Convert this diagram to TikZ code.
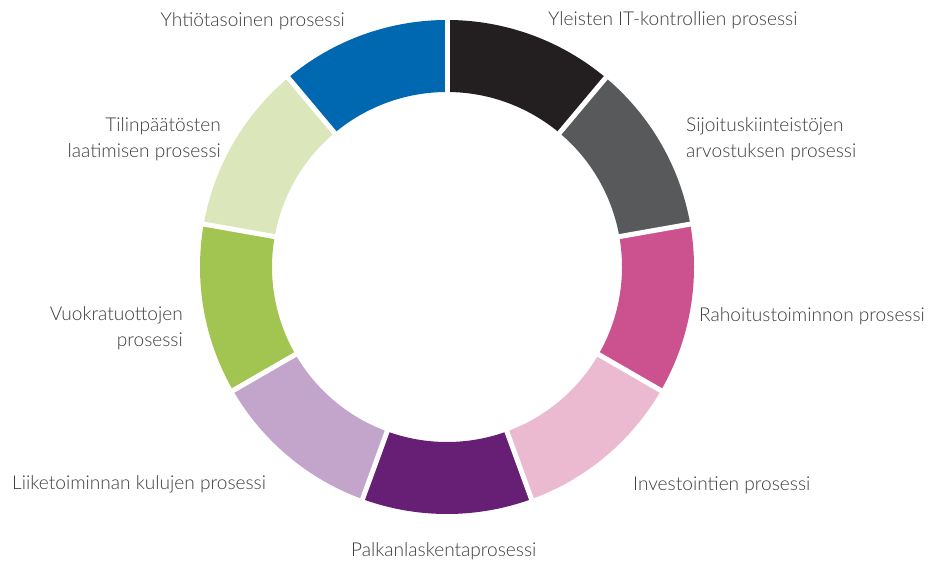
\documentclass[tikz,border=0pt]{standalone}
\usepackage{fontspec}
\setmainfont{Lato Light}
\usetikzlibrary{positioning}
\definecolor{itblack}{HTML}{231F20}
\definecolor{sijgray}{HTML}{58595B}
\definecolor{rahpink}{HTML}{CC528F}
\definecolor{invpink}{HTML}{EBB9D0}
\definecolor{palpurple}{HTML}{661F74}
\definecolor{liililac}{HTML}{C3A4CA}
\definecolor{vuogreen}{HTML}{A2C450}
\definecolor{tilgreen}{HTML}{DBE6BA}
\definecolor{yhtblue}{HTML}{0068B1}
\definecolor{labelgray}{HTML}{3C3C3C}
\tikzstyle{lbl}=[text=labelgray, inner sep=0pt, font=\fontsize{19.1}{26}\selectfont]
\tikzstyle{gap}=[draw=white, line width=5pt]

\begin{document}
\begin{tikzpicture}[
    x=1pt, y=1pt
    ]
    \useasboundingbox (0,0) rectangle (928,561);
    \coordinate (c) at (447,294);
    % ring segments, clockwise from the top
    \foreach \a/\col in {50/itblack, 10/sijgray, -30/rahpink, -70/invpink,
        -110/palpurple, -150/liililac, 170/vuogreen, 130/tilgreen, 90/yhtblue}
      \fill[\col, shift={(c)}] (\a:247) arc[start angle=\a, delta angle=40, radius=247]
        -- ({\a+40}:175) arc[start angle=\a+40, delta angle=-40, radius=175] -- cycle;
    \foreach \a in {90,50,10,-30,-70,-110,-150,170,130}
      \draw[gap, shift={(c)}] (\a:170) -- (\a:252);

    \node[lbl, anchor=base east] (yht) at (345,534) {Yhtiötasoinen prosessi};
    \node[lbl, anchor=base west] (it) at (548,535) {Yleisten IT-kontrollien prosessi};
    \node[lbl, anchor=base west, align=left] (sij) at (686,403) {Sijoituskiinteistöjen\\arvostuksen prosessi};
    \node[lbl, anchor=base east, align=right] (til) at (221,403) {Tilinpäätösten\\laatimisen prosessi};
    \node[lbl, anchor=base west] (rah) at (699,239) {Rahoitustoiminnon prosessi};
    \node[lbl, anchor=base east, align=right] (vuo) at (183,214) {Vuokratuottojen\\prosessi};
    \node[lbl, anchor=base west] (liike) at (12,71) {Liiketoiminnan kulujen prosessi};
    \node[lbl, anchor=base west] (inv) at (633,70) {Investointien prosessi};
    \node[lbl, anchor=base west] (pal) at (351,4) {Palkanlaskentaprosessi};
\end{tikzpicture}
\end{document}
